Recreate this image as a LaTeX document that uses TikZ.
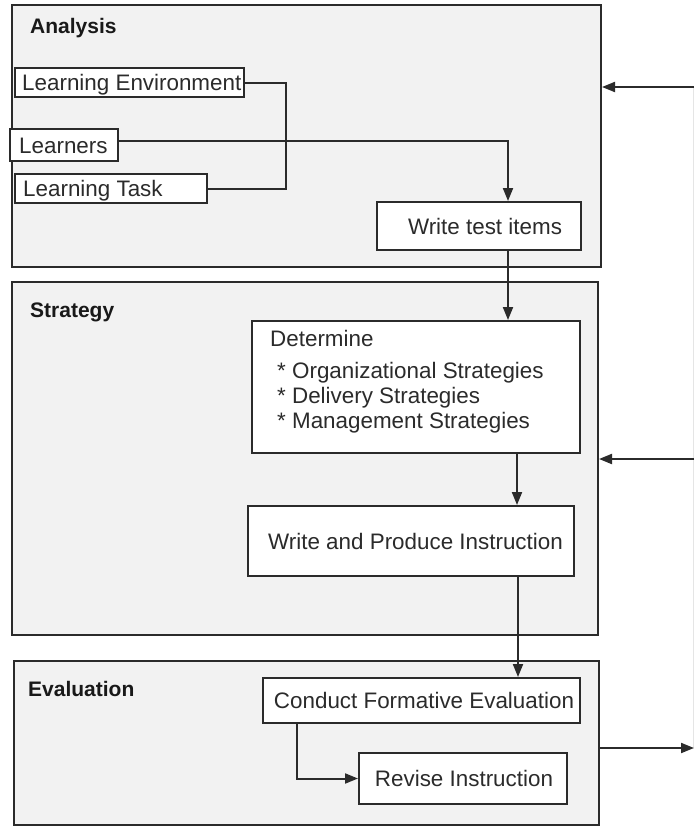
\documentclass[tikz,border=0pt]{standalone}
\usepackage{fontspec}
\setmainfont{Liberation Sans}
\usetikzlibrary{arrows.meta}
\definecolor{ink}{HTML}{2B2B2B}
\definecolor{panel}{HTML}{F2F2F2}
\begin{document}
\begin{tikzpicture}[x=1pt,y=-1pt,
  frame/.style={draw=ink, line width=2pt, fill=panel, rectangle, inner sep=0pt},
  stepbox/.style={draw=ink, line width=2pt, fill=white, rectangle, inner sep=0pt,
    font=\fontsize{22.4}{26}\selectfont, text=ink, text height=16pt, text depth=0pt},
  boxtext/.style={inner sep=0pt, font=\fontsize{22.4}{26}\selectfont, text=ink,
    text height=16pt, text depth=0pt},
  linetext/.style={inner sep=0pt, font=\fontsize{22.4}{26}\selectfont, text=ink, anchor=base west},
  header/.style={inner sep=0pt, font=\fontsize{21}{25}\selectfont\bfseries, text=black!90, anchor=base west},
  link/.style={draw=ink, line width=2pt},
  arr/.style={link, -{Triangle[length=13pt,width=10pt]}},
]
\useasboundingbox (0,0) rectangle (694,827);

% phase panels
\node[frame, minimum width=589pt, minimum height=262pt] (ana) at (306.5,136) {};
\node[frame, minimum width=586pt, minimum height=353pt] (str) at (305,458.5) {};
\node[frame, minimum width=585pt, minimum height=164pt] (eva) at (306.5,743) {};

\node[header] (ana-h) at (30,33) {Analysis};
\node[header] (str-h) at (30,317) {Strategy};
\node[header] (eva-h) at (28,696) {Evaluation};

% analysis inputs
\node[stepbox, minimum width=229pt, minimum height=29pt] (le) at (129.5,82.5) {};
\node[boxtext, anchor=west] (le-t) at ([xshift=8pt]le.west) {Learning Environment};
\node[stepbox, minimum width=108pt, minimum height=32pt] (lrn) at (64,145) {};
\node[boxtext, anchor=west] (lrn-t) at ([xshift=10pt]lrn.west) {Learners};
\node[stepbox, minimum width=192pt, minimum height=29pt] (lt) at (111,188.5) {};
\node[boxtext, anchor=west] (lt-t) at ([xshift=9pt]lt.west) {Learning Task};

\node[stepbox, minimum width=204pt, minimum height=48pt] (wti) at (479,226) {\hspace*{12pt}Write test items};

% strategy steps
\node[stepbox, minimum width=328pt, minimum height=132pt] (det) at (416,387) {};
\node[linetext] (det-1) at (270,346) {Determine};
\node[linetext] (det-2) at (277,378) {* Organizational Strategies};
\node[linetext] (det-3) at (277,403) {* Delivery Strategies};
\node[linetext] (det-4) at (277,428) {* Management Strategies};

\node[stepbox, minimum width=326pt, minimum height=70pt] (wpi) at (411,541) {\hspace*{9pt}Write and Produce Instruction};

% evaluation steps
\node[stepbox, minimum width=317pt, minimum height=45pt] (cfe) at (421.5,700.5) {\hspace*{5pt}Conduct Formative Evaluation};
\node[stepbox, minimum width=208pt, minimum height=51pt] (rev) at (463,778.5) {\hspace*{2pt}Revise Instruction};

% analysis connectors
\draw[link] (le.east) -- ++(41,0) |- (lt.east);
\draw[arr] ([yshift=4pt]lrn.east) -| ([xshift=29pt]wti.north);

% flow between phases
\draw[arr] ([xshift=29pt]wti.south) -- ([xshift=29pt]wti.south |- det.north);
\draw[arr] ([xshift=101pt]det.south) -- ([xshift=101pt]det.south |- wpi.north);
\draw[arr] ([xshift=107pt]wpi.south) -- ([xshift=107pt]wpi.south |- cfe.north);
\draw[arr] ([xshift=-124.5pt]cfe.south) |- (rev.west);

% feedback on the right
\coordinate (fb1) at (694,87);
\coordinate (fb2) at (694,459);
\coordinate (fb3) at (694,748);
\draw[gray!20, line width=1pt] (693,87) -- (693,748);
\draw[arr] (fb1) -- (ana.east |- fb1);
\draw[arr] (fb2) -- (str.east |- fb2);
\draw[arr] (eva.east |- fb3) -- (fb3);
\end{tikzpicture}
\end{document}
